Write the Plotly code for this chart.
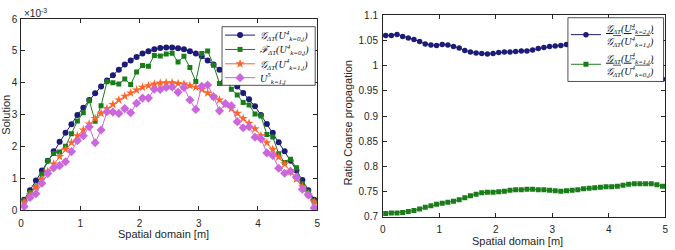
import plotly.graph_objects as go

# ---------------- data ----------------
x = [0.05, 0.15, 0.25, 0.35, 0.45, 0.55, 0.65, 0.75, 0.85, 0.95,
     1.05, 1.15, 1.25, 1.35, 1.45, 1.55, 1.65, 1.75, 1.85, 1.95,
     2.05, 2.15, 2.25, 2.35, 2.45, 2.55, 2.65, 2.75, 2.85, 2.95,
     3.05, 3.15, 3.25, 3.35, 3.45, 3.55, 3.65, 3.75, 3.85, 3.95,
     4.05, 4.15, 4.25, 4.35, 4.45, 4.55, 4.65, 4.75, 4.85, 4.95]

# left panel, values in units of 1e-3
g_k0 = [0.33, 0.63, 0.93, 1.25, 1.55, 1.85, 2.15, 2.43, 2.70, 2.99,
        3.22, 3.46, 3.67, 3.88, 4.07, 4.24, 4.41, 4.57, 4.70, 4.81,
        4.92, 4.99, 5.05, 5.09, 5.11, 5.11, 5.08, 5.05, 4.99, 4.92,
        4.83, 4.70, 4.57, 4.41, 4.24, 4.07, 3.88, 3.68, 3.48, 3.26,
        2.99, 2.71, 2.43, 2.13, 1.85, 1.55, 1.25, 0.95, 0.63, 0.33]
f_k0 = [0.29, 0.56, 0.73, 1.14, 1.55, 1.78, 1.83, 2.01, 2.40, 2.80,
        3.06, 3.44, 2.79, 3.28, 4.03, 4.00, 3.96, 4.12, 3.95, 4.34,
        4.54, 4.52, 4.86, 4.84, 4.90, 4.93, 4.65, 4.83, 4.48, 4.04,
        4.92, 5.00, 4.55, 3.98, 4.25, 3.80, 3.62, 3.38, 3.30, 3.02,
        2.96, 2.38, 2.30, 1.77, 1.50, 1.60, 1.33, 0.83, 0.58, 0.28]
g_k1 = [0.26, 0.49, 0.73, 0.98, 1.22, 1.45, 1.69, 1.91, 2.12, 2.34,
        2.52, 2.71, 2.88, 3.04, 3.19, 3.32, 3.46, 3.58, 3.68, 3.77,
        3.86, 3.91, 3.96, 3.99, 4.00, 4.00, 3.98, 3.96, 3.91, 3.86,
        3.79, 3.68, 3.58, 3.46, 3.32, 3.19, 3.04, 2.88, 2.73, 2.56,
        2.34, 2.12, 1.91, 1.67, 1.45, 1.22, 0.98, 0.74, 0.49, 0.26]
u5_k1 = [0.12, 0.40, 0.52, 0.85, 1.15, 1.33, 1.40, 1.52, 1.84, 2.18,
         2.34, 2.62, 2.12, 2.52, 3.09, 3.08, 3.04, 3.19, 3.06, 3.36,
         3.52, 3.52, 3.80, 3.79, 3.85, 3.87, 3.70, 3.85, 3.46, 3.16,
         3.89, 3.93, 3.56, 3.12, 3.35, 3.28, 2.78, 2.59, 2.62, 2.29,
         2.24, 1.80, 1.72, 1.32, 1.16, 1.22, 1.04, 0.66, 0.48, 0.07]

# right panel
ratio_21 = [1.060, 1.060, 1.062, 1.058, 1.055, 1.052, 1.048, 1.043, 1.041, 1.040,
            1.042, 1.041, 1.038, 1.035, 1.030, 1.027, 1.025, 1.024, 1.023, 1.024,
            1.026, 1.027, 1.027, 1.028, 1.029, 1.029, 1.031, 1.034, 1.036, 1.038,
            1.039, 1.040, 1.042, 1.040, 1.039, 1.037, 1.034, 1.030, 1.026, 1.021,
            1.016, 1.010, 1.004, 0.998, 0.992, 0.986, 0.981, 0.977, 0.974, 0.973]
ratio_10 = [0.707, 0.708, 0.708, 0.709, 0.711, 0.713, 0.716, 0.719, 0.722, 0.725,
            0.727, 0.729, 0.731, 0.734, 0.738, 0.742, 0.745, 0.748, 0.749, 0.749,
            0.750, 0.751, 0.753, 0.754, 0.754, 0.755, 0.755, 0.754, 0.754, 0.753,
            0.752, 0.751, 0.752, 0.753, 0.754, 0.756, 0.757, 0.758, 0.759, 0.760,
            0.760, 0.761, 0.763, 0.765, 0.766, 0.766, 0.766, 0.766, 0.764, 0.761]

left_xticks = [0, 1, 2, 3, 4, 5]
left_yticks = [0, 1, 2, 3, 4, 5, 6]
right_yticks = [0.7, 0.75, 0.8, 0.85, 0.9, 0.95, 1.0, 1.05, 1.1]
right_yticklabels = ["0.7", "0.75", "0.8", "0.85", "0.9", "0.95", "1", "1.05", "1.1"]

names_left = [
    "𝒢<sub>ΔT</sub>(U<sup>4</sup><sub>k=0,j</sub>)",
    "ℱ<sub>ΔT</sub>(U<sup>4</sup><sub>k=0,j</sub>)",
    "𝒢<sub>ΔT</sub>(U<sup>4</sup><sub>k=1,j</sub>)",
    "U<sup>5</sup><sub>k=1,j</sub>",
]
names_right = [
    "<u>𝒢<sub>ΔT</sub>(U<sup>4</sup><sub>k=2,j</sub>)</u><br>𝒢<sub>ΔT</sub>(U<sup>4</sup><sub>k=1,j</sub>)",
    "<u>𝒢<sub>ΔT</sub>(U<sup>4</sup><sub>k=1,j</sub>)</u><br>𝒢<sub>ΔT</sub>(U<sup>4</sup><sub>k=0,j</sub>)",
]

NAVY = "#1c1c78"
GREEN = "#1a7d1a"
ORANGE = "#ff6428"
PURPLE = "#cc66dd"
AX = "#262626"

W, H = 675, 250
def px(v):
    return v / W
def py(v):
    return (H - v) / H

fig = go.Figure()

left_series = [
    (g_k0, NAVY, "circle", 6),
    (f_k0, GREEN, "square", 5),
    (g_k1, ORANGE, "star", 7),
    (u5_k1, PURPLE, "diamond", 7),
]
leg_names = ["legend", "legend2", "legend3", "legend4", "legend5", "legend6"]
for k, ((ys, col, sym, sz), nm) in enumerate(zip(left_series, names_left)):
    fig.add_trace(go.Scatter(
        x=x, y=ys, mode="lines+markers", name=nm, showlegend=True,
        line=dict(color=col, width=1),
        marker=dict(color=col, symbol=sym, size=sz, line=dict(width=0)),
        xaxis="x", yaxis="y", legend=leg_names[k]))

for k, (ys, col, sym, sz, nm) in enumerate([(ratio_21, NAVY, "circle", 5.5, names_right[0]),
                                            (ratio_10, GREEN, "square", 5, names_right[1])]):
    fig.add_trace(go.Scatter(
        x=x, y=ys, mode="lines+markers", name=nm, showlegend=True,
        line=dict(color=col, width=1),
        marker=dict(color=col, symbol=sym, size=sz, line=dict(width=0)),
        xaxis="x2", yaxis="y2", legend=leg_names[4 + k]))

TICKFONT = dict(family="Liberation Sans, Arial, sans-serif", size=10, color=AX)
axis_common = dict(showline=True, linecolor=AX, linewidth=0.8, mirror="allticks",
                   ticks="inside", ticklen=4, tickcolor=AX, tickwidth=0.8,
                   showgrid=False, zeroline=False, tickfont=TICKFONT)
LEGFONT = dict(family="Liberation Serif, DejaVu Serif, serif", size=10,
               color="#111111", style="italic")

def leg(xleft, ycenter):
    return dict(x=px(xleft), y=py(ycenter), xanchor="left", yanchor="middle",
                bgcolor="rgba(0,0,0,0)", borderwidth=0, font=LEGFONT,
                itemwidth=30, tracegroupgap=0, valign="middle", visible=True)

left_rows = [31.5, 46.5, 61.5, 76]
right_rows = [31, 62]
layout_legends = {}
for k, r in enumerate(left_rows):
    layout_legends[leg_names[k]] = leg(219, r)
for k, r in enumerate(right_rows):
    layout_legends[leg_names[4 + k]] = leg(568, r)

fig.update_layout(
    width=W, height=H, showlegend=True,
    margin=dict(l=0, r=0, t=0, b=0),
    paper_bgcolor="white", plot_bgcolor="white",
    font=dict(family="Liberation Sans, Arial, sans-serif", size=10, color=AX),
    xaxis=dict(domain=[px(18.3), px(317)], range=[0, 5], tickvals=left_xticks,
               anchor="y", ticklabelstandoff=4, **axis_common),
    yaxis=dict(domain=[py(214.7), py(14.7)], range=[0, 6], tickvals=left_yticks,
               anchor="x", ticklabelstandoff=1, **axis_common),
    xaxis2=dict(domain=[px(383.3), px(668.3)], range=[0, 5], tickvals=left_xticks,
                anchor="y2", ticklabelstandoff=3, **axis_common),
    yaxis2=dict(domain=[py(221.7), py(10.7)], range=[0.7, 1.1], tickvals=right_yticks,
                ticktext=right_yticklabels, anchor="x2", ticklabelstandoff=2, **axis_common),
    shapes=[
        dict(type="rect", xref="paper", yref="paper", layer="above",
             x0=px(221), x1=px(315), y0=py(84), y1=py(22.7),
             fillcolor="white", line=dict(color=AX, width=0.8)),
        dict(type="rect", xref="paper", yref="paper", layer="above",
             x0=px(570), x1=px(666.5), y0=py(80), y1=py(13.3),
             fillcolor="white", line=dict(color=AX, width=0.8)),
    ],
    annotations=[
        dict(text="×10<sup>-3</sup>", x=px(19), y=py(8), xref="paper", yref="paper",
             xanchor="left", yanchor="middle", showarrow=False,
             font=dict(size=10, color=AX)),
        dict(text="Solution", x=px(3), y=py(114.7), xref="paper", yref="paper",
             xanchor="center", yanchor="middle", textangle=-90, showarrow=False,
             font=dict(size=11, color=AX)),
        dict(text="Spatial domain [m]", x=px(161.7), y=py(239.5), xref="paper", yref="paper",
             xanchor="center", yanchor="middle", showarrow=False,
             font=dict(size=11, color=AX)),
        dict(text="Ratio Coarse propagation", x=px(348), y=py(123), xref="paper", yref="paper",
             xanchor="center", yanchor="middle", textangle=-90, showarrow=False,
             font=dict(size=11, color=AX)),
        dict(text="Spatial domain [m]", x=px(519.5), y=py(247), xref="paper", yref="paper",
             xanchor="center", yanchor="middle", showarrow=False,
             font=dict(size=11, color=AX)),
    ],
    **layout_legends,
)

fig.write_html("out.html")
